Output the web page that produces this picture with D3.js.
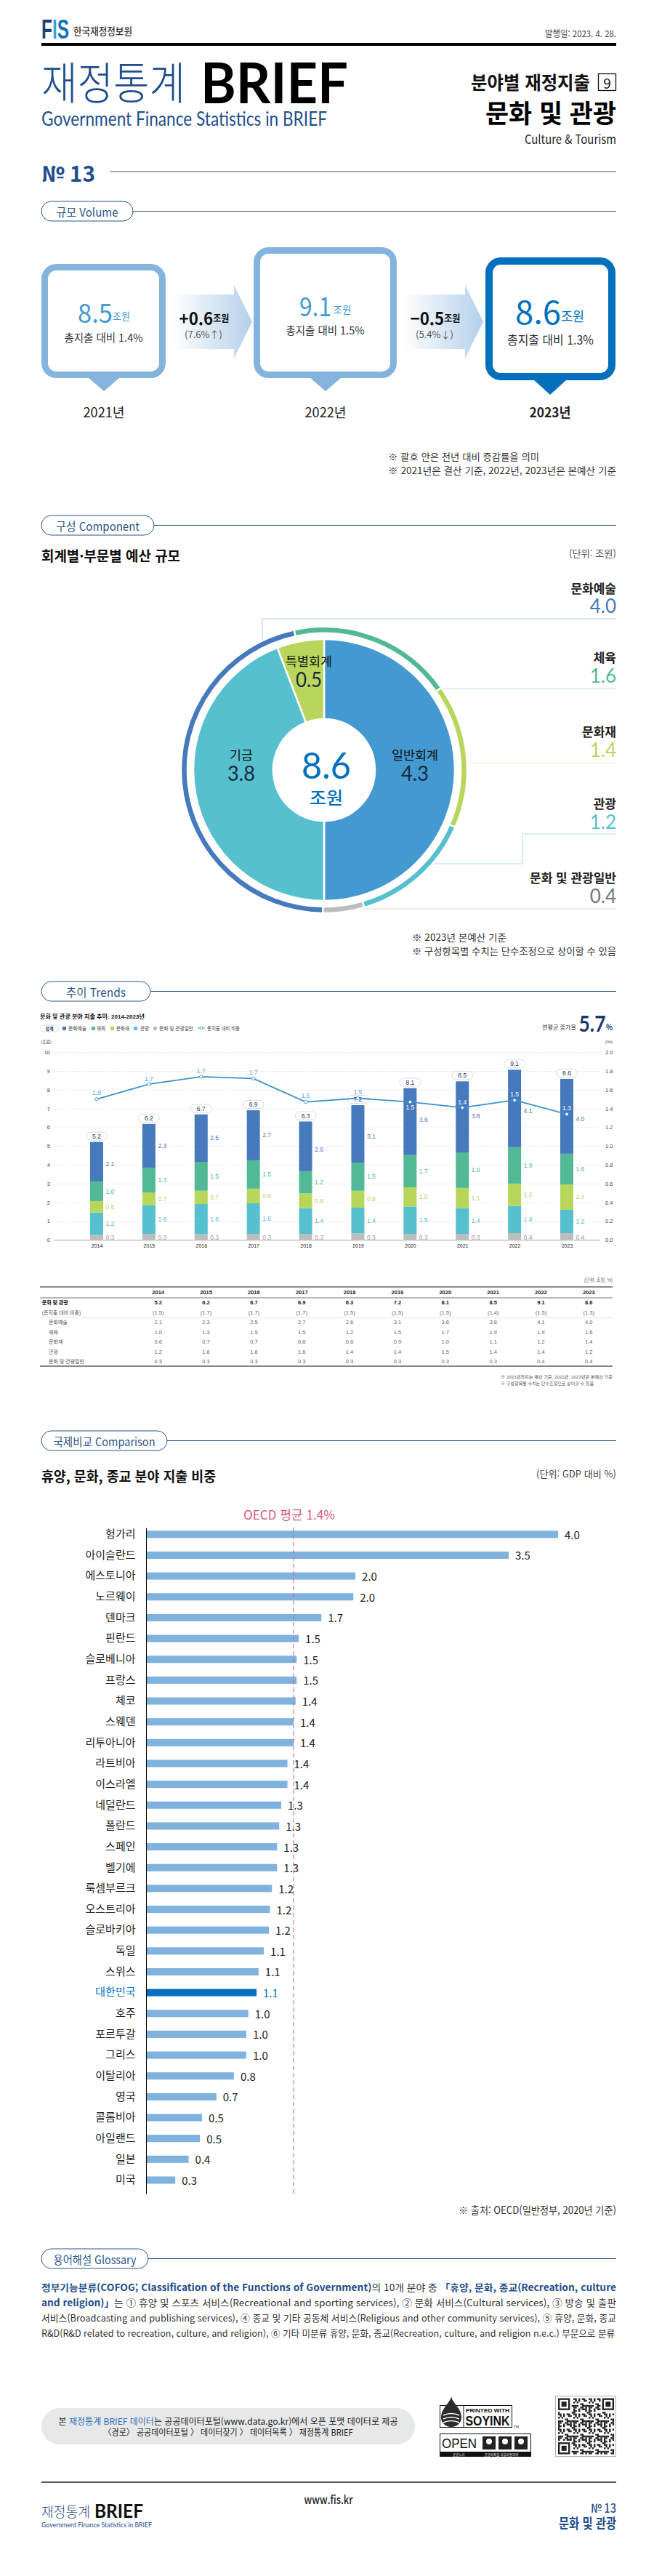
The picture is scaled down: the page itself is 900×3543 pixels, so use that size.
<!DOCTYPE html>
<html lang="ko"><head><meta charset="utf-8">
<script src="https://cdn.jsdelivr.net/npm/d3@7/dist/d3.min.js"></script>
<style>html,body{margin:0;padding:0;background:#fff}svg{display:block}text{font-family:"Noto Sans CJK KR","Noto Sans",sans-serif}.sm text,text.sm{font-family:"Liberation Sans","Noto Sans CJK KR",sans-serif}text.num{font-family:"Lato","Noto Sans",sans-serif}</style>
</head><body><div id="c"></div>
<script>
// ---------- DATA ----------
const volumeYears = ["2021년","2022년","2023년"];
const volumeValues = ["8.5","9.1","8.6"];
const volumeShares = ["1.4%","1.5%","1.3%"];
const volumeDeltas = ["+0.6","-0.5"];
const volumeDeltaRates = ["(7.6%↑)","(5.4%↓)"];

const accountNames = ["일반회계","기금","특별회계"];
const accountValues = [4.3,3.8,0.5];
const sectorNames = ["문화예술","체육","문화재","관광","문화 및 관광일반"];
const sectorValues = [4.0,1.6,1.4,1.2,0.4];

const trendYears = ["2014","2015","2016","2017","2018","2019","2020","2021","2022","2023"];
// heights
const barGeneral = [0.26,0.32,0.30,0.32,0.32,0.34,0.32,0.32,0.36,0.36];
const barTourism = [1.20,1.54,1.61,1.63,1.37,1.38,1.46,1.38,1.45,1.24];
const barHeritage = [0.61,0.67,0.71,0.78,0.79,0.90,1.02,1.07,1.19,1.36];
const barSports = [1.03,1.32,1.54,1.51,1.18,1.50,1.72,1.89,1.94,1.63];
const barArts = [2.12,2.33,2.53,2.67,2.65,3.06,3.57,3.79,4.13,3.99];
const shareLine = [1.50,1.66,1.74,1.72,1.47,1.51,1.47,1.41,1.49,1.34];
// printed figures (labels and table)
const printedTotal = ["5.2","6.2","6.7","6.9","6.3","7.2","8.1","8.5","9.1","8.6"];
const printedShare = ["1.5","1.7","1.7","1.7","1.5","1.5","1.5","1.4","1.5","1.3"];
const printedArts = ["2.1","2.3","2.5","2.7","2.6","3.1","3.6","3.8","4.1","4.0"];
const printedSports = ["1.0","1.3","1.5","1.5","1.2","1.5","1.7","1.9","1.9","1.6"];
const printedHeritage = ["0.6","0.7","0.7","0.8","0.8","0.9","1.0","1.1","1.2","1.4"];
const printedTourism = ["1.2","1.6","1.6","1.6","1.4","1.4","1.5","1.4","1.4","1.2"];
const printedGeneral = ["0.3","0.3","0.3","0.3","0.3","0.3","0.3","0.3","0.4","0.4"];

const countries = ["헝가리","아이슬란드","에스토니아","노르웨이","덴마크","핀란드","슬로베니아","프랑스","체코","스웨덴","리투아니아","라트비아","이스라엘","네덜란드","폴란드","스페인","벨기에","룩셈부르크","오스트리아","슬로바키아","독일","스위스","대한민국","호주","포르투갈","그리스","이탈리아","영국","콜롬비아","아일랜드","일본","미국"];
const countryValues = [4.00,3.52,2.03,2.01,1.70,1.48,1.46,1.46,1.45,1.43,1.43,1.37,1.37,1.31,1.29,1.27,1.27,1.22,1.20,1.19,1.14,1.09,1.07,0.99,0.97,0.97,0.85,0.68,0.54,0.52,0.41,0.28];
const countryLabels = ["4.0","3.5","2.0","2.0","1.7","1.5","1.5","1.5","1.4","1.4","1.4","1.4","1.4","1.3","1.3","1.3","1.3","1.2","1.2","1.2","1.1","1.1","1.1","1.0","1.0","1.0","0.8","0.7","0.5","0.5","0.4","0.3"];
const oecdAverage = 1.43;

// ---------- HELPERS ----------
const NAVY="#1f4e8c", BLUE="#0070bd", SKY="#4499d1", LBOX="#84b4de", DARK="#222";
const C = {arts:"#4779bd",sports:"#52b996",heritage:"#b8d65c",tourism:"#56c0cf",general:"#bdbdbd"};
const svg = d3.select("#c").append("svg").attr("width",900).attr("height",3543).attr("viewBox","0 0 900 3543");
svg.append("rect").attr("width",900).attr("height",3543).attr("fill","#fff");
function T(p,x,y,s,o={}){
  const t=p.append("text").attr("x",x).attr("y",y).attr("dominant-baseline","central")
    .attr("text-anchor",o.a||"start").attr("font-size",o.s||14).attr("font-weight",o.w||400).attr("fill",o.c||DARK);
  if(o.cls)t.attr("class",o.cls);
  if(Array.isArray(s)){s.forEach(r=>{const ts=t.append("tspan").text(r.t);if(r.c)ts.attr("fill",r.c);if(r.w)ts.attr("font-weight",r.w);if(r.s)ts.attr("font-size",r.s);});}
  else t.text(s);
  if(o.len){t.attr("textLength",o.len).attr("lengthAdjust","spacingAndGlyphs");}
  return t;
}
function pill(label,x,y,w,len,lineEnd=848){
  svg.append("line").attr("x1",x+w).attr("x2",lineEnd).attr("y1",y+13.5).attr("y2",y+13.5).attr("stroke","#2b5687").attr("stroke-width",1.2);
  svg.append("rect").attr("x",x).attr("y",y).attr("width",w).attr("height",27).attr("rx",13.5).attr("fill","#fff").attr("stroke","#2b5687").attr("stroke-width",1);
  T(svg,x+w/2,y+14,label,{a:"middle",s:16,c:"#2b5687",len});
}

// ---------- HEADER ----------
T(svg,57,40,[{t:"F",c:"#1a3f7a"},{t:"I",c:"#2fa6d6"},{t:"S",c:"#1670b8"}],{s:36,w:700,len:38,cls:"sm"});
T(svg,101,42,"한국재정정보원",{s:14,w:500,c:"#333",len:81});
T(svg,848,45,"발행일: 2023. 4. 28.",{a:"end",s:12,c:"#444",len:98});
svg.append("rect").attr("x",57).attr("y",59).attr("width",791).attr("height",4).attr("fill","#000");
T(svg,57,110,"재정통계",{s:61,w:300,c:NAVY,len:198});
T(svg,276,112,"BRIEF",{s:76,w:700,c:"#000",len:203,cls:"num"});
T(svg,57,162,"Government Finance Statistics in BRIEF",{s:27,w:400,c:NAVY,len:393,cls:"num"});
T(svg,648,112,"분야별 재정지출",{s:25,w:700,c:"#111",len:164});
svg.append("rect").attr("x",823.5).attr("y",101.5).attr("width",24).attr("height",23).attr("fill","none").attr("stroke","#111").attr("stroke-width",1.3);
T(svg,835.5,113,"9",{a:"middle",s:19,c:"#111"});
T(svg,848,153,"문화 및 관광",{a:"end",s:35,w:700,c:"#000",len:180});
T(svg,848,190,"Culture & Tourism",{a:"end",s:17,c:"#222",len:126});
T(svg,57,237,"№ 13",{s:30,w:700,c:NAVY,len:74});
svg.append("line").attr("x1",151).attr("x2",848).attr("y1",236).attr("y2",236).attr("stroke","#555").attr("stroke-width",1.2);

// ---------- VOLUME ----------
pill("규모 Volume",57,277,126,85);
const defs=svg.append("defs");
const grad=defs.append("linearGradient").attr("id","arrowGrad");
grad.append("stop").attr("offset","0").attr("stop-color","#fff");
grad.append("stop").attr("offset","1").attr("stop-color","#b4d0ea");
[{x:237,v:0},{x:555,v:1}].forEach(a=>{
  const x=a.x;
  svg.append("path").attr("d",`M${x},405H${x+85}V392L${x+110},442.5L${x+85},493V480H${x}Z`).attr("fill","url(#arrowGrad)");
  T(svg,x+44,436,[{t:volumeDeltas[a.v].replace("-","−"),s:24},{t:"조원",s:13}],{a:"middle",w:700,c:"#111",len:69});
  T(svg,x+43,459,volumeDeltaRates[a.v],{a:"middle",s:13,c:"#555",len:52});
});
const boxes=[
 {x:57,y:363,w:171,h:157,tip:143,th:18,tb:22,col:LBOX,sw:9,nx:131,ny:428,ns:36,nw:48,ux:167,us:14,ul:24,sy:463,ss:15,sl:108,yw:400,sk:SKY},
 {x:349,y:340,w:197,h:180,tip:448,th:18,tb:22,col:LBOX,sw:9,nx:434,ny:418.5,ns:36,nw:44,ux:471,us:14,ul:25,sy:453,ss:15,sl:108,yw:400,sk:SKY},
 {x:668,y:354,w:179,h:169,tip:757,th:20,tb:23,col:BLUE,sw:10,nx:740.5,ny:427,ns:43,nw:63,ux:788,us:18,ul:32,sy:466,ss:17,sl:119,yw:700,sk:BLUE}];
boxes.forEach((b,i)=>{
  const inset=b.sw/2;
  svg.append("path").attr("d",`M${b.tip-b.tb},${b.y+b.h-1}L${b.tip},${b.y+b.h+b.th}L${b.tip+b.tb},${b.y+b.h-1}Z`).attr("fill",b.col);
  svg.append("rect").attr("x",b.x+inset).attr("y",b.y+inset).attr("width",b.w-b.sw).attr("height",b.h-b.sw).attr("rx",16).attr("fill","#fff").attr("stroke",b.col).attr("stroke-width",b.sw);
  T(svg,b.nx,b.ny,volumeValues[i],{a:"middle",s:b.ns,c:b.sk,len:b.nw});
  T(svg,b.ux,b.ny+(i==2?7:6),"조원",{a:"middle",s:b.us,c:b.sk,len:b.ul});
  T(svg,b.x+b.w/2,b.sy,"총지출 대비 "+volumeShares[i],{a:"middle",s:b.ss,c:"#333",len:b.sl});
  T(svg,b.tip,566,volumeYears[i],{a:"middle",s:18,w:b.yw,c:"#222",len:57});
});
T(svg,534,627,"※ 괄호 안은 전년 대비 증감률을 의미",{s:13,c:"#333",len:208});
T(svg,534,646,"※ 2021년은 결산 기준, 2022년, 2023년은 본예산 기준",{s:13,c:"#333",len:314});

// ---------- COMPONENT ----------
pill("구성 Component",57,709,155,115);
T(svg,57,763,"회계별·부문별 예산 규모",{s:19,w:700,c:"#111",len:191});
T(svg,848,760,"(단위: 조원)",{a:"end",s:13,c:"#555",len:65});
const cx=446,cy=1059;
const donut=svg.append("g").attr("transform",`translate(${cx},${cy})`);
const leaders=[
 {c:"#a9cbe3",pts:[[848,851],[361,851],[361,885]]},
 {c:"#bfe6d8",pts:[[848,947],[606,947]]},
 {c:"#e4efc4",pts:[[848,1049],[642,1049]]},
 {c:"#a9dfe6",pts:[[848,1147],[719,1147],[719,1188],[594,1188]]},
 {c:"#d8d8d8",pts:[[848,1250],[470,1250]]}];
leaders.forEach(l=>svg.insert("path","g").attr("d",d3.line()(l.pts)).attr("fill","none").attr("stroke",l.c).attr("stroke-width",1));
const rad=d=>d*Math.PI/180;
const innerPie=d3.pie().sort(null).value(d=>d)(accountValues);
const arcInner=d3.arc().innerRadius(70).outerRadius(180);
const accountColors=["#4499d1",C.tourism,C.heritage];
donut.selectAll("path.a").data(innerPie).join("path").attr("class","a").attr("d",arcInner).attr("fill",(d,i)=>accountColors[i]).attr("stroke","#fff").attr("stroke-width",2.5);
const outerPie=d3.pie().sort(null).value(d=>d).startAngle(rad(-179.5)).endAngle(rad(180.5))(sectorValues);
const arcOuter=d3.arc().innerRadius(188).outerRadius(197);
const sectorColors=[C.arts,C.sports,C.heritage,C.tourism,C.general];
donut.selectAll("path.s").data(outerPie).join("path").attr("class","s").attr("d",arcOuter).attr("fill",(d,i)=>sectorColors[i]).attr("stroke","#fff").attr("stroke-width",2.5);
const accountPos=[[571,1037,1063],[332,1037,1063],[425,908,934]];
accountNames.forEach((n,i)=>{
  const [x,y1,y2]=accountPos[i];
  T(svg,x,y1,n,{a:"middle",s:17,c:"#111",len:n.length*16});
  T(svg,x,y2,accountValues[i].toFixed(1),{a:"middle",s:28,c:"#1a2a3a",cls:"num",len:i==2?36:38});
});
T(svg,cx+3,1052,d3.format(".1f")(d3.sum(accountValues)),{a:"middle",s:50,c:BLUE,len:68,cls:"num"});
T(svg,cx+3,1095,"조원",{a:"middle",s:24,w:500,c:BLUE,len:46});
const sectorY=[[808,833],[903,929],[1005,1031],[1104,1130],[1206,1232]];
const sectorText=[C.arts,C.sports,C.heritage,C.tourism,"#777"];
sectorNames.forEach((n,i)=>{
  T(svg,848,sectorY[i][0],n,{a:"end",s:17,w:700,c:"#222"});
  T(svg,848,sectorY[i][1],sectorValues[i].toFixed(1),{a:"end",s:26,c:sectorText[i],cls:"num"});
});
T(svg,567,1288,"※ 2023년 본예산 기준",{s:13,c:"#333",len:130});
T(svg,567,1307,"※ 구성항목별 수치는 단수조정으로 상이할 수 있음",{s:13,c:"#333",len:281});

// ---------- TRENDS ----------
pill("추이 Trends",57,1350,150,82);
const tr=svg.append("g").attr("class","sm");
T(tr,55,1398,"문화 및 관광 분야 지출 추이: 2014-2023년",{s:8,w:700,c:"#111",len:144});
tr.append("rect").attr("x",55.5).attr("y",1410).attr("width",25).attr("height",9).attr("rx",4.5).attr("fill","#fff").attr("stroke","#ccc").attr("stroke-width",.7);
T(tr,68,1414.5,"합계",{a:"middle",s:6,w:700,c:"#1d3a66"});
const legendItems=[[86,C.arts,"문화예술",94,25],[126,C.sports,"체육",133,12],[152,C.heritage,"문화재",160,18],[184,C.tourism,"관광",193,12],[211,C.general,"문화 및 관광일반",219,47]];
legendItems.forEach(l=>{
  tr.append("rect").attr("x",l[0]).attr("y",1412).attr("width",5).attr("height",5).attr("fill",l[1]);
  T(tr,l[3],1414.5,l[2],{s:6.6,c:"#444",len:l[4]});
});
tr.append("line").attr("x1",272).attr("x2",282).attr("y1",1414).attr("y2",1414).attr("stroke","#3a92cd");
tr.append("circle").attr("cx",277).attr("cy",1414).attr("r",1.8).attr("fill","#fff").attr("stroke","#3a92cd").attr("stroke-width",.8);
T(tr,285,1414.5,"총지출 대비 비중",{s:6.6,c:"#444",len:45});
T(tr,746,1413,"연평균 증가율",{s:8,c:"#333",len:47});
T(svg,815,1407,"5.7",{a:"middle",s:30,w:700,c:"#173a70",len:37,cls:"num"});
T(svg,834,1412,"%",{s:11,w:700,c:"#173a70",len:9});
T(tr,56,1433,"(조원)",{s:6,c:"#444",len:15});
T(tr,843,1433,"(%)",{a:"end",s:6,c:"#444",len:10});
const yL=d3.scaleLinear().domain([0,10]).range([1705.3,1447.3]);
const yR=d3.scaleLinear().domain([0,2]).range([1705.3,1447.3]);
const xT=d3.scalePoint().domain(trendYears).range([133,780]);
const gridAxis=d3.axisLeft(yL).ticks(10).tickSize(-752).tickPadding(5).tickFormat(d3.format("d"));
const gL=tr.append("g").attr("transform","translate(74,0)").call(gridAxis);
gL.select(".domain").remove();
gL.selectAll(".tick line").attr("stroke",(d)=>d===0?"#aaa":"#ddd").attr("stroke-dasharray",d=>d===0?null:"1.5 1").attr("stroke-width",d=>d===0?1:.7);
gL.selectAll(".tick text").attr("font-size",7.5).attr("fill","#444");
const gR=tr.append("g").attr("transform","translate(826,0)").call(d3.axisRight(yR).tickValues(d3.range(0,2.01,.2)).tickSize(0).tickPadding(7).tickFormat(d3.format(".1f")));
gR.select(".domain").remove();
gR.selectAll(".tick text").attr("font-size",7.5).attr("fill","#444");
const gX=tr.append("g").attr("transform","translate(0,1705.3)").call(d3.axisBottom(xT).tickSize(0).tickPadding(6));
gX.select(".domain").remove();
gX.selectAll(".tick text").attr("font-size",7).attr("fill","#222");
const stackRows=trendYears.map((y,i)=>({y,general:barGeneral[i],tourism:barTourism[i],heritage:barHeritage[i],sports:barSports[i],arts:barArts[i]}));
const keys=["general","tourism","heritage","sports","arts"];
const series=d3.stack().keys(keys)(stackRows);
const printedByKey={general:printedGeneral,tourism:printedTourism,heritage:printedHeritage,sports:printedSports,arts:printedArts};
const labelColor={general:"#999",tourism:"#56c0cf",heritage:"#b8d65c",sports:"#52b996",arts:"#4779bd"};
const artsLabelNudge=[3,0,0,0,4.5,3.5,-2.5,-1.5,3.5,3.5];
series.forEach(s=>{
  tr.selectAll(null).data(s).join("rect").attr("x",d=>xT(d.data.y)-9).attr("width",18)
    .attr("y",d=>yL(d[1])).attr("height",d=>yL(d[0])-yL(d[1])).attr("fill",C[s.key]);
  tr.selectAll(null).data(s).join("text").attr("x",d=>xT(d.data.y)+12.5)
    .attr("y",(d,i)=>s.key==="general"?yL(0)-3.5:(yL(d[0])+yL(d[1]))/2+(s.key==="arts"?artsLabelNudge[i]:0))
    .attr("dominant-baseline","central").attr("font-size",8.5).attr("fill",labelColor[s.key])
    .text((d,i)=>printedByKey[s.key][i]);
});
const tops=series[4];
tr.selectAll(null).data(tops).join("rect").attr("x",d=>xT(d.data.y)-14.5).attr("y",d=>yL(d[1])-13.5).attr("width",29).attr("height",11).attr("rx",5.5).attr("fill","#fff").attr("stroke","#ccc").attr("stroke-width",.7);
tr.selectAll(null).data(tops).join("text").attr("x",d=>xT(d.data.y)).attr("y",d=>yL(d[1])-8).attr("text-anchor","middle").attr("dominant-baseline","central").attr("font-size",8.5).attr("fill","#1d3a66").text((d,i)=>printedTotal[i]);
tr.append("path").datum(shareLine).attr("d",d3.line().x((d,i)=>xT(trendYears[i])).y(d=>yR(d))).attr("fill","none").attr("stroke","#3a92cd").attr("stroke-width",1.8);
tr.selectAll(null).data(shareLine).join("circle").attr("cx",(d,i)=>xT(trendYears[i])).attr("cy",d=>yR(d)).attr("r",2.2).attr("fill","#fff").attr("stroke","#3a92cd").attr("stroke-width",.9);
const shareLabelDy=[-8.5,-7.5,-8,-8.5,-8.5,-8.5,7.5,-7.5,-8.5,-8];
tr.selectAll(null).data(shareLine).join("text").attr("x",(d,i)=>xT(trendYears[i])).attr("y",(d,i)=>yR(d)+shareLabelDy[i]).attr("text-anchor","middle").attr("dominant-baseline","central").attr("font-size",8.5).attr("fill",(d,i)=>i>=6?"#fff":"#5aa6d8").text((d,i)=>printedShare[i]);

T(tr,843,1760,"(단위: 조원, %)",{a:"end",s:6.5,c:"#666",len:39});
const xTab=d3.scalePoint().domain(trendYears).range([217.7,810.3]);
const tableRows=[
 {n:"문화 및 관광",v:printedTotal,b:true,x:57.7,y:1791.7},
 {n:"(총지출 대비 비중)",v:printedShare.map(s=>`(${s})`),x:57.7,y:1805},
 {n:"문화예술",v:printedArts,x:67,y:1818.7},
 {n:"체육",v:printedSports,x:67,y:1832},
 {n:"문화재",v:printedHeritage,x:67,y:1845.7},
 {n:"관광",v:printedTourism,x:67,y:1859},
 {n:"문화 및 관광일반",v:printedGeneral,x:67,y:1872.7}];
[[1770,"#666",1.6],[1785,"#777",1.2],[1812,"#ddd",.8],[1879,"#111",1]].forEach(r=>tr.append("line").attr("x1",55).attr("x2",843).attr("y1",r[0]).attr("y2",r[0]).attr("stroke",r[1]).attr("stroke-width",r[2]));
trendYears.forEach(y=>T(tr,xTab(y),1777.5,y,{a:"middle",s:7.5,w:700,c:"#222"}));
tableRows.forEach(r=>{
  T(tr,r.x,r.y,r.n,{s:7,w:r.b?700:400,c:r.b?"#111":"#555"});
  r.v.forEach((s,i)=>T(tr,xTab(trendYears[i]),r.y,s,{a:"middle",s:7.5,w:r.b?700:400,c:r.b?"#111":"#666"}));
});
T(tr,689,1893.7,"※ 2021년까지는 결산 기준, 2022년, 2023년은 본예산 기준",{s:6,c:"#555",len:154});
T(tr,689,1902.7,"※ 구성항목별 수치는 단수조정으로 상이할 수 있음",{s:6,c:"#555",len:128});

// ---------- COMPARISON ----------
pill("국제비교 Comparison",57,1968,173,140);
T(svg,57,2029,"휴양, 문화, 종교 분야 지출 비중",{s:19,w:700,c:"#111",len:240});
T(svg,848,2026,"(단위: GDP 대비 %)",{a:"end",s:13,c:"#444",len:110});
T(svg,398,2082,"OECD 평균 1.4%",{a:"middle",s:17,c:"#d8577f",len:126});
const xC=d3.scaleLinear().domain([0,4]).range([201.5,768]);
const yC=d3.scaleBand().domain(countries).range([2096,3012.8]).paddingInner(0);
const rowMid=d=>yC(d)+yC.bandwidth()/2;
const gC=svg.append("g");
gC.selectAll(null).data(countries).join("rect").attr("x",xC(0)).attr("y",d=>rowMid(d)-5).attr("height",10)
  .attr("width",(d,i)=>xC(countryValues[i])-xC(0)).attr("fill",d=>d==="대한민국"?BLUE:"#7fb2dd");
gC.selectAll(null).data(countries).join("text").attr("x",(d,i)=>xC(countryValues[i])+9).attr("y",rowMid)
  .attr("dominant-baseline","central").attr("font-size",15).attr("fill",d=>d==="대한민국"?BLUE:"#222").text((d,i)=>countryLabels[i]);
gC.append("line").attr("x1",xC(oecdAverage)).attr("x2",xC(oecdAverage)).attr("y1",2101).attr("y2",3018).attr("stroke","#d8577f").attr("stroke-width",1).attr("stroke-dasharray","6 4");
const axC=d3.axisLeft(yC).tickSize(0).tickPadding(15);
const gAx=svg.append("g").attr("transform",`translate(${xC(0)},0)`).call(axC);
gAx.select(".domain").remove();
gAx.selectAll(".tick text").attr("font-size",15).attr("fill",d=>d==="대한민국"?BLUE:"#222");
svg.append("line").attr("x1",xC(0)).attr("x2",xC(0)).attr("y1",2101.7).attr("y2",3018).attr("stroke","#000").attr("stroke-width",1);
T(svg,848,3039,"※ 출처: OECD(일반정부, 2020년 기준)",{a:"end",s:14,c:"#333",len:217});

// ---------- GLOSSARY ----------
pill("용어해설 Glossary",57,3093,147,114);
const G=NAVY,B="#333";
const gloss=[
 [{t:"정부기능분류(COFOG; Classification of the Functions of Government)",c:G,w:700},{t:"의 10개 분야 중 ",c:B},{t:"「휴양, 문화, 종교(Recreation, culture",c:G,w:700}],
 [{t:"and religion)」",c:G,w:700},{t:"는 ① 휴양 및 스포츠 서비스(Recreational and sporting services), ② 문화 서비스(Cultural services), ③ 방송 및 출판",c:B}],
 [{t:"서비스(Broadcasting and publishing services), ④ 종교 및 기타 공동체 서비스(Religious and other community services), ⑤ 휴양, 문화, 종교",c:B}],
 [{t:"R&D(R&D related to recreation, culture, and religion), ⑥ 기타 미분류 휴양, 문화, 종교(Recreation, culture, and religion n.e.c.) 부문으로 분류",c:B}]];
gloss.forEach((l,i)=>T(svg,57,3145+i*21,l,{s:13,len:i==3?789:791}));

// data notice
svg.append("rect").attr("x",57).attr("y",3312).attr("width",514).attr("height",50).attr("rx",25).attr("fill","#e7e8e9");
T(svg,314,3329,[{t:"본 "},{t:"재정통계 BRIEF 데이터",c:"#2f6fb4"},{t:"는 공공데이터포털(www.data.go.kr)에서 오픈 포맷 데이터로 제공"}],{a:"middle",s:12,c:"#222",len:467});
T(svg,314,3344,"〈경로〉 공공데이터포털 〉 데이터찾기 〉 데이터목록 〉 재정통계 BRIEF",{a:"middle",s:12,c:"#222",len:343});

// soy ink mark
const soy=svg.append("g");
soy.append("rect").attr("x",605.5).attr("y",3308.5).attr("width",99).attr("height",30).attr("fill","#fff").attr("stroke","#111").attr("stroke-width",1);
soy.append("line").attr("x1",638).attr("x2",638).attr("y1",3308).attr("y2",3339).attr("stroke","#111");
soy.append("path").attr("d","M621,3296C623,3306 635,3312 635,3325A14,13 0 0 1 607,3325C607,3312 619,3306 621,3296Z").attr("fill","#2b2b2b");
[3322,3327,3332].forEach(y=>soy.append("path").attr("d",`M610,${y}Q621,${y-5} 632,${y}`).attr("fill","none").attr("stroke","#fff").attr("stroke-width",1.5));
T(soy,671,3315,"PRINTED WITH",{a:"middle",s:8,w:700,c:"#111",len:60,cls:"sm"});
T(soy,671,3330,"SOYINK",{a:"middle",s:18,w:700,c:"#111",len:61,cls:"sm"});
T(soy,707,3337,"TM",{s:5,c:"#111"});
// open mark
const op=svg.append("g");
op.append("rect").attr("x",605.5).attr("y",3347.5).attr("width",125).attr("height",31).attr("fill","#fff").attr("stroke","#111");
op.append("rect").attr("x",605).attr("y",3372).attr("width",126).attr("height",7).attr("fill","#111");
T(op,632,3360,"OPEN",{a:"middle",s:19,w:500,c:"#111",len:48,cls:"sm"});
[664,686,708].forEach(x=>{op.append("rect").attr("x",x).attr("y",3351).attr("width",18).attr("height",18).attr("fill","#222");
  op.append("circle").attr("cx",x+9).attr("cy",3358).attr("r",4).attr("fill","#fff");});
T(op,631,3375.5,"공공누리",{a:"middle",s:4.5,c:"#fff"});
T(op,690,3375.5,"공공저작물 자유이용허락",{a:"middle",s:4.5,c:"#fff"});
// qr mark
const qr=svg.append("g");
qr.append("rect").attr("x",764.5).attr("y",3295.5).attr("width",83).attr("height",83).attr("fill","#fff").attr("stroke","#9fb4c8");
const qn=33,qs=77/qn,qx=768,qy=3298.5;
const inFinder=(i,j)=>(i<8&&j<8)||(i>=qn-8&&j<8)||(i<8&&j>=qn-8);
for(let i=0;i<qn;i++)for(let j=0;j<qn;j++){
  if(inFinder(i,j))continue;
  const h=((i*i*7+j*j*13+i*j*5+i*3+j*11)%9);
  if(h<4)qr.append("rect").attr("x",qx+i*qs).attr("y",qy+j*qs).attr("width",qs+.1).attr("height",qs+.1).attr("fill","#222");
}
[[0,0],[qn-7,0],[0,qn-7]].forEach(([a,b])=>{
  qr.append("rect").attr("x",qx+a*qs+qs/2).attr("y",qy+b*qs+qs/2).attr("width",6*qs).attr("height",6*qs).attr("fill","none").attr("stroke","#222").attr("stroke-width",qs);
  qr.append("rect").attr("x",qx+(a+2)*qs).attr("y",qy+(b+2)*qs).attr("width",3*qs).attr("height",3*qs).attr("fill","#222");
});

// ---------- FOOTER ----------
svg.append("rect").attr("x",57).attr("y",3413).attr("width",791).attr("height",2).attr("fill","#555");
T(svg,452,3437,"www.fis.kr",{a:"middle",s:16,w:500,c:"#222",len:67});
T(svg,57,3453,"재정통계",{s:19,w:300,c:NAVY,len:67});
T(svg,130,3453,"BRIEF",{s:26,w:700,c:"#111",len:67,cls:"num"});
T(svg,57,3472,"Government Finance Statistics in BRIEF",{s:9.5,c:NAVY,len:152,cls:"num"});
T(svg,848,3448,"№ 13",{a:"end",s:17,w:500,c:NAVY,len:35});
T(svg,848,3469,"문화 및 관광",{a:"end",s:19,w:700,c:NAVY,len:79});
</script></body></html>
